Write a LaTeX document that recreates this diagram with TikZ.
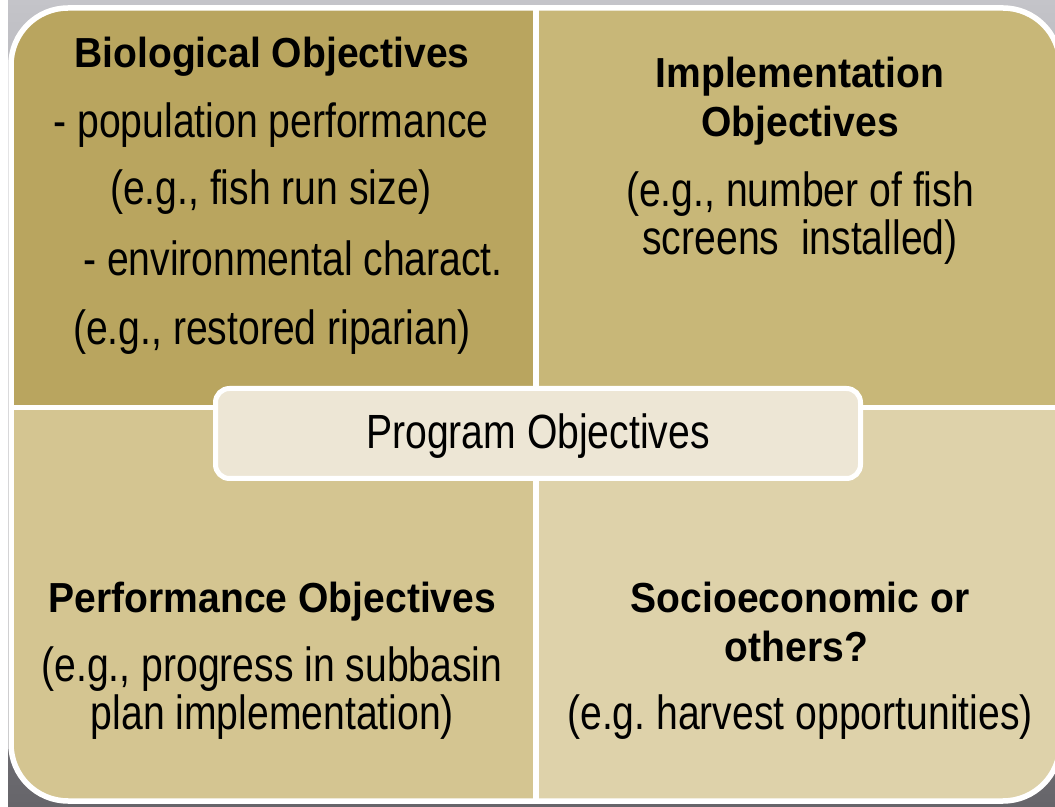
\documentclass[tikz,border=0pt]{standalone}
\usepackage{fontspec}
\setmainfont{Liberation Sans}
\newfontfamily\narrowfont[FakeStretch=0.815]{Liberation Sans}
\newfontfamily\headfont[FakeStretch=0.93]{Liberation Sans}
\definecolor{bioCol}{HTML}{B9A55F}
\definecolor{implCol}{HTML}{C8B778}
\definecolor{perfCol}{HTML}{D4C591}
\definecolor{socioCol}{HTML}{DED2AA}
\definecolor{progCol}{HTML}{EDE6D5}
\definecolor{bgTop}{HTML}{C4C4C9}
\definecolor{bgBot}{HTML}{66656A}
\frenchspacing
\begin{document}
\begin{tikzpicture}[x=1pt,y=1pt,
    head node/.style={anchor=base,inner sep=0pt,font={\headfont\bfseries\fontsize{42}{48}\selectfont}},
    body node/.style={anchor=base,inner sep=0pt,font={\narrowfont\fontsize{48}{52}\selectfont}},
    prog node/.style={draw=white,line width=5pt,fill=progCol,rounded corners=14pt,
      minimum width=645pt,minimum height=90pt,inner sep=0pt,text depth=4pt,
      font={\narrowfont\fontsize{48}{52}\selectfont}}]
 \useasboundingbox (0,0) rectangle (1055,806);
 \shade[top color=bgTop,bottom color=bgBot] (8,0) rectangle (1055,806);

 % the four quarters
 \begin{scope}
  \clip[rounded corners=57pt] (11,5) rectangle (1060,798);
  \fill[bioCol] (0,398.5) rectangle (536,806);
  \fill[implCol] (536,398.5) rectangle (1070,806);
  \fill[perfCol] (0,0) rectangle (536,398.5);
  \fill[socioCol] (536,0) rectangle (1070,398.5);
 \end{scope}
 \draw[white,line width=5.5pt,rounded corners=57pt] (11,5) rectangle (1060,798);
 \draw[white,line width=5.5pt] (536,5) -- (536,798) (11,398.5) -- (1060,398.5);

 \node[head node] (bioT) at (272,738) {Biological Objectives};
 \node[body node] (bio1) at (271,668) {- population performance};
 \node[body node] (bio2) at (271,601) {(e.g., fish run size)};
 \node[body node] (bio3) at (293,530) {- environmental charact.};
 \node[body node] (bio4) at (272,461) {(e.g., restored riparian)};

 \node[head node] (implT) at (800,718) {Implementation};
 \node[head node] (implT2) at (800,669) {Objectives};
 \node[body node] (impl1) at (800,599) {(e.g., number of fish};
 \node[body node] (impl2) at (800,551) {screens\ \ installed)};

 \node[head node] (perfT) at (272.5,193) {Performance Objectives};
 \node[body node] (perf1) at (272,124) {(e.g., progress in subbasin};
 \node[body node] (perf2) at (272.5,76) {plan implementation)};

 \node[head node] (socT) at (800,193) {Socioeconomic or};
 \node[head node] (socT2) at (796.5,144) {others?};
 \node[body node] (soc1) at (800,76) {(e.g. harvest opportunities)};

 \node[prog node] (prog) at (538,372.5) {Program Objectives};
\end{tikzpicture}
\end{document}
